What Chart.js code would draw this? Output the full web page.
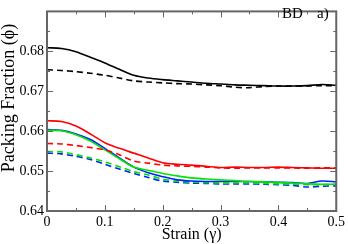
<!DOCTYPE html>
<html>
<head>
<meta charset="utf-8">
<script src="https://cdn.jsdelivr.net/npm/chart.js@4/dist/chart.umd.min.js"></script>
<style>
  html, body { margin: 0; padding: 0; background: #fff; }
  #wrap { width: 348px; height: 244px; }
</style>
</head>
<body>
<div id="wrap"><canvas id="chart" width="348" height="244"></canvas></div>
<script>
// strain values (x) and packing fraction series
const strain = [0, 0.025, 0.05, 0.075, 0.1, 0.125, 0.15, 0.175, 0.2, 0.225, 0.25,
                0.275, 0.3, 0.325, 0.35, 0.375, 0.4, 0.425, 0.45, 0.475, 0.5];

const blackSolid = [0.6809, 0.6807, 0.6799, 0.6785, 0.6771, 0.6755, 0.6740, 0.6733, 0.6729, 0.6726, 0.6723,
                    0.6720, 0.6718, 0.6716, 0.6715, 0.6714, 0.6713, 0.6713, 0.6714, 0.6717, 0.6715];
const blackDashed = [0.6754, 0.6752, 0.6749, 0.6745, 0.6740, 0.6733, 0.6726, 0.6723, 0.6721, 0.6719, 0.6718,
                     0.6716, 0.6714, 0.6710, 0.6709, 0.6712, 0.6713, 0.6713, 0.6713, 0.6714, 0.6714];
const redSolid = [0.6626, 0.6624, 0.6613, 0.6593, 0.6571, 0.6557, 0.6545, 0.6533, 0.6521, 0.6517, 0.6515,
                  0.6512, 0.6509, 0.6510, 0.6509, 0.6509, 0.6510, 0.6509, 0.6508, 0.6507, 0.6507];
const redDashed = [0.6569, 0.6568, 0.6564, 0.6559, 0.6553, 0.6541, 0.6525, 0.6520, 0.6515, 0.6513, 0.6512,
                   0.6510, 0.6508, 0.6507, 0.6508, 0.6508, 0.6508, 0.6508, 0.6507, 0.6508, 0.6508];
const greenSolid = [0.6602, 0.6601, 0.6591, 0.6575, 0.6553, 0.6531, 0.6510, 0.6502, 0.6494, 0.6488, 0.6483,
                    0.6480, 0.6478, 0.6476, 0.6474, 0.6473, 0.6471, 0.6470, 0.6468, 0.6467, 0.6467];
const blueSolid = [0.6604, 0.6602, 0.6593, 0.6579, 0.6557, 0.6533, 0.6510, 0.6496, 0.6486, 0.6478, 0.6475,
                   0.6474, 0.6474, 0.6474, 0.6474, 0.6473, 0.6472, 0.6471, 0.6469, 0.6475, 0.6473];
const greenDashed = [0.6549, 0.6548, 0.6541, 0.6533, 0.6523, 0.6511, 0.6499, 0.6490, 0.6480, 0.6475, 0.6472,
                     0.6471, 0.6470, 0.6470, 0.6470, 0.6469, 0.6468, 0.6467, 0.6466, 0.6466, 0.6467];
const blueDashed = [0.6545, 0.6543, 0.6537, 0.6529, 0.6517, 0.6505, 0.6494, 0.6484, 0.6475, 0.6472, 0.6470,
                    0.6469, 0.6468, 0.6468, 0.6468, 0.6467, 0.6466, 0.6464, 0.6460, 0.6462, 0.6463];

const xTicks = [0, 0.1, 0.2, 0.3, 0.4, 0.5];
const yTicks = [0.64, 0.65, 0.66, 0.67, 0.68];

const FONT = '"Liberation Serif", "DejaVu Serif", serif';

function pts(values) {
    return strain.map((s, i) => ({ x: s, y: values[i] }));
}

function line(values, color, dashed) {
    return {
        data: pts(values),
        borderColor: color,
        borderWidth: 1.6,
        borderDash: dashed ? [6, 4] : [],
        pointRadius: 0,
        fill: false,
        tension: 0.3
    };
}

// frame, inward ticks, y title and the "BD a)" label
const framePlugin = {
    id: 'frame',
    afterDraw(chart) {
        const { ctx, chartArea: a, scales } = chart;
        ctx.save();
        ctx.strokeStyle = '#666';
        ctx.lineWidth = 2;
        ctx.strokeRect(a.left, a.top, a.right - a.left, a.bottom - a.top);

        ctx.lineWidth = 1;
        for (let v = 0; v <= 0.5001; v += 0.05) {
            const x = Math.round(scales.x.getPixelForValue(v)) + 0.5;
            const len = Math.abs(v * 10 - Math.round(v * 10)) < 1e-6 ? 6 : 3;
            ctx.beginPath();
            ctx.moveTo(x, a.bottom); ctx.lineTo(x, a.bottom - len);
            ctx.moveTo(x, a.top); ctx.lineTo(x, a.top + len);
            ctx.stroke();
        }
        for (let v = 0.64; v <= 0.6901; v += 0.005) {
            const y = Math.round(scales.y.getPixelForValue(v)) + 0.5;
            const len = Math.abs(v * 100 - Math.round(v * 100)) < 1e-6 ? 6 : 3;
            ctx.beginPath();
            ctx.moveTo(a.left, y); ctx.lineTo(a.left + len, y);
            ctx.moveTo(a.right, y); ctx.lineTo(a.right - len, y);
            ctx.stroke();
        }

        ctx.fillStyle = '#000';
        ctx.font = '15px ' + FONT;
        ctx.textBaseline = 'middle';
        ctx.textAlign = 'left';
        ctx.fillText('BD', 282, 14);
        ctx.fillText('a)', 317, 14);

        // y axis title
        ctx.translate(9, 98);
        ctx.rotate(-Math.PI / 2);
        ctx.font = '18px ' + FONT;
        ctx.textAlign = 'center';
        ctx.fillText('Packing Fraction (ϕ)', 0, 0);
        ctx.restore();
    }
};

const ctx = document.getElementById('chart').getContext('2d');
new Chart(ctx, {
    type: 'line',
    data: {
        datasets: [
            line(blackSolid, '#000000', false),
            line(blackDashed, '#000000', true),
            line(redSolid, '#ff0000', false),
            line(redDashed, '#ff0000', true),
            line(greenSolid, '#00e600', false),
            line(blueSolid, '#0022ff', false),
            line(greenDashed, '#00e600', true),
            line(blueDashed, '#0022ff', true)
        ]
    },
    options: {
        responsive: false,
        animation: false,
        layout: { padding: { top: 1, right: 11, left: 0, bottom: 0 } },
        plugins: { legend: { display: false }, tooltip: { enabled: false } },
        scales: {
            x: {
                type: 'linear',
                min: 0, max: 0.5,
                afterBuildTicks(scale) { scale.ticks = xTicks.map(v => ({ value: v })); },
                afterFit(scale) { scale.height = 33; },
                grid: { display: false, drawTicks: false },
                border: { display: false },
                ticks: {
                    padding: 3,
                    color: '#000',
                    font: { family: FONT, size: 14 },
                    maxRotation: 0,
                    callback: v => (v === 0 ? '0' : String(v))
                },
                title: {
                    display: true,
                    text: 'Strain (γ)',
                    color: '#000',
                    font: { family: FONT, size: 16 },
                    padding: { top: 0, bottom: 0 }
                }
            },
            y: {
                type: 'linear',
                min: 0.64, max: 0.69,
                afterBuildTicks(scale) { scale.ticks = yTicks.map(v => ({ value: v })); },
                afterFit(scale) { scale.width = 47; },
                grid: { display: false, drawTicks: false },
                border: { display: false },
                ticks: {
                    padding: 3,
                    color: '#000',
                    font: { family: FONT, size: 14 },
                    callback: v => v.toFixed(2)
                }
            }
        }
    },
    plugins: [framePlugin]
});
</script>
</body>
</html>
